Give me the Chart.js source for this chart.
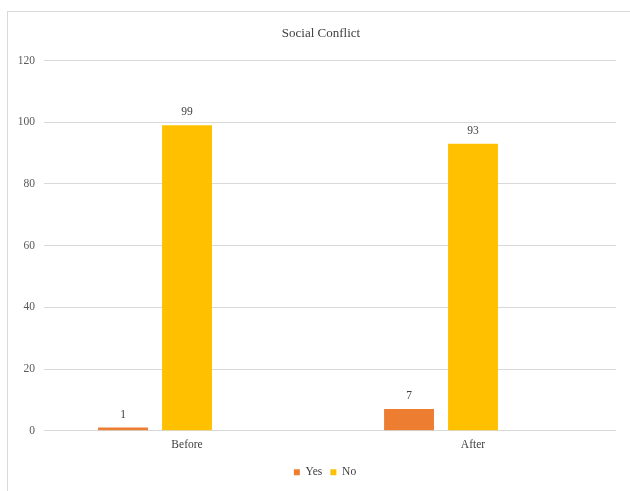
<!DOCTYPE html>
<html>
<head>
<meta charset="utf-8">
<script src="https://cdn.jsdelivr.net/npm/chart.js@4/dist/chart.umd.min.js"></script>
<style>
  html, body { margin: 0; padding: 0; background: #fff; }
  #frame { position: absolute; left: 7px; top: 11px; width: 700px; height: 600px; border: 1px solid #d9d9d9; box-sizing: border-box; }
  #wrap { position: absolute; left: 0; top: 0; width: 630px; height: 491px; }
</style>
</head>
<body>
<div id="frame"></div>
<div id="wrap"><canvas id="c" width="630" height="491"></canvas></div>
<script>
const categories = ['Before', 'After'];
const yesValues = [1, 7];
const noValues = [99, 93];
const spareValues = [null, null]; // empty third series slot
const yTicks = [0, 20, 40, 60, 80, 100, 120];

const serif = "'Liberation Serif', 'Times New Roman', serif";

// Draws each bar's value above it
const valueLabels = {
  id: 'valueLabels',
  afterDatasetsDraw(chart) {
    const ctx = chart.ctx;
    ctx.save();
    ctx.font = '11.5px ' + serif;
    ctx.fillStyle = '#404040';
    ctx.textAlign = 'center';
    ctx.textBaseline = 'middle';
    chart.data.datasets.forEach((ds, i) => {
      const meta = chart.getDatasetMeta(i);
      meta.data.forEach((bar, j) => {
        const v = ds.data[j];
        if (v === null || v === undefined) return;
        ctx.fillText(String(v), bar.x, bar.y - 13);
      });
    });
    ctx.restore();
  }
};

// Nudges title and legend to the right so they sit centred on the page
const centreBlocks = {
  id: 'centreBlocks',
  afterLayout(chart) {
    const shift = (box, dx) => { if (box) { box.left += dx; box.right += dx; } };
    shift(chart.titleBlock, 13);
    shift(chart.legend, 17);
  }
};

new Chart(document.getElementById('c'), {
  type: 'bar',
  data: {
    labels: categories,
    datasets: [
      { label: 'Yes', data: yesValues, backgroundColor: '#ED7D31' },
      { label: 'No', data: noValues, backgroundColor: '#FFC000' },
      { label: '', data: spareValues, backgroundColor: '#A5A5A5' }
    ]
  },
  options: {
    responsive: false,
    animation: false,
    devicePixelRatio: 1,
    layout: { padding: { top: 0, right: 14, bottom: 3, left: 0 } },
    datasets: { bar: { categoryPercentage: 0.671, barPercentage: 0.78 } },
    plugins: {
      title: {
        display: true,
        text: 'Social Conflict',
        color: '#404040',
        font: { family: serif, size: 13, weight: 'normal' },
        padding: { top: 26, bottom: 19 }
      },
      legend: {
        position: 'bottom',
        labels: {
          filter: (item) => item.text !== '',
          boxWidth: 6,
          boxHeight: 6,
          padding: 8,
          color: '#404040',
          font: { family: serif, size: 11.5 }
        }
      },
      tooltip: { enabled: false }
    },
    scales: {
      x: {
        grid: { display: false, drawTicks: false },
        border: { display: false },
        ticks: { color: '#404040', padding: 7, font: { family: serif, size: 11.5 } }
      },
      y: {
        min: 0,
        max: 120,
        afterFit(scale) { scale.width = 44; },
        afterBuildTicks(scale) { scale.ticks = yTicks.map(v => ({ value: v })); },
        grid: { color: '#d9d9d9', lineWidth: 1, drawTicks: false },
        border: { display: false },
        ticks: { color: '#595959', padding: 9, font: { family: serif, size: 11.5 } }
      }
    }
  },
  plugins: [valueLabels, centreBlocks]
});
</script>
</body>
</html>
